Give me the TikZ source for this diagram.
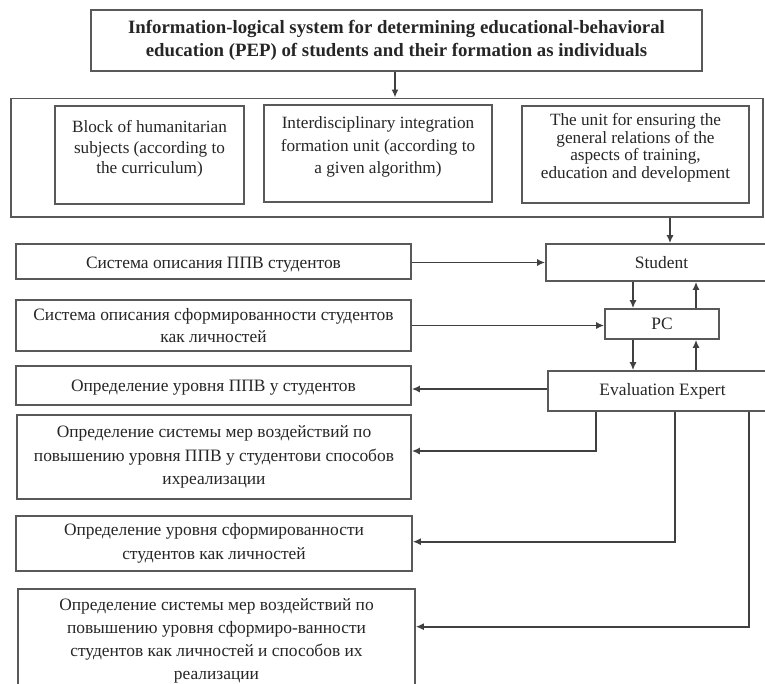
\documentclass[tikz,border=0pt]{standalone}
\usepackage{fontspec}
\setmainfont{Liberation Serif}
\usetikzlibrary{arrows.meta}
\newcommand{\lowpad}[1]{\rule[-#1]{0pt}{0pt}}
\newcommand{\toppad}[1]{\rule{0pt}{#1}}
\begin{document}
\begin{tikzpicture}[x=1pt,y=-1pt,
  box/.style={draw=black!65, line width=1.6pt, inner sep=0pt, align=center, text=black!85,
    font=\fontsize{17.4}{23}\selectfont},
  titlebox/.style={box, font=\bfseries\fontsize{18.8}{23.4}\selectfont},
  arr/.style={draw=black!75, line width=1.6pt, -{Latex[length=8pt,width=7pt]}},
  ln/.style={draw=black!75, line width=1.6pt}]
\useasboundingbox[fill=white] (0,0) rectangle (765,683);
\begin{scope}
\clip (0,0) rectangle (765,683);
% top
\node[titlebox, minimum width=611pt, minimum height=60.7pt] (title) at (396.5,40.35)
  {Information-logical system for determining educational-behavioral\\education (PEP) of students and their formation as individuals};
\node[box, minimum width=752.3pt, minimum height=118.7pt] (cont) at (386.85,157.65) {};
\node[box, minimum width=189pt, minimum height=98pt, font=\fontsize{17.2}{20.4}\selectfont] (b1) at (149.5,155)
  {Block of humanitarian\\subjects (according to\\the curriculum)\lowpad{16pt}};
\node[box, minimum width=228pt, minimum height=97pt, font=\fontsize{17.2}{22.5}\selectfont] (b2) at (378,153.5)
  {Interdisciplinary integration\\formation unit (according to\\a given algorithm)\lowpad{16pt}};
\node[box, minimum width=227pt, minimum height=97pt, font=\fontsize{17.2}{17.7}\selectfont] (b3) at (635.5,154.5)
  {The unit for ensuring the\\general relations of the\\aspects of training,\\education and development\lowpad{17pt}};
% right column
\node[box, minimum width=231pt, minimum height=37pt] (stu) at (661.5,262.5) {Student};
\node[box, minimum width=114pt, minimum height=30pt] (pc) at (662,324) {PC};
\node[box, minimum width=229pt, minimum height=40pt] (ev) at (662.5,391) {Evaluation Expert};
% left column
\node[box, minimum width=395pt, minimum height=35pt] (l1) at (213.5,261.5)
  {\toppad{17pt}Система описания ППВ студентов};
\node[box, minimum width=395pt, minimum height=51pt, font=\fontsize{17.4}{22}\selectfont] (l2) at (213.5,325.5)
  {Система описания сформированности студентов\\как личностей};
\node[box, minimum width=395pt, minimum height=39pt] (l3) at (213.5,385.5)
  {\toppad{16pt}Определение уровня ППВ у студентов};
\node[box, minimum width=394pt, minimum height=84pt, font=\fontsize{17.4}{23.4}\selectfont] (l4) at (214,457)
  {Определение системы мер воздействий по\\повышению уровня ППВ у студентови способов\\ихреализации};
\node[box, minimum width=396pt, minimum height=55pt, font=\fontsize{17.4}{24}\selectfont] (l5) at (214,543.5)
  {Определение уровня сформированности\\студентов как личностей};
\node[box, minimum width=397pt, minimum height=104pt, font=\fontsize{17.4}{22.8}\selectfont] (l6) at (216.5,641)
  {Определение системы мер воздействий по\\повышению уровня сформиро-ванности\\студентов как личностей и способов их\\реализации};
% connectors
\draw[arr] ([xshift=-1.5pt]title.south) -- ([xshift=-1.5pt]title.south |- cont.north);
\draw[arr] ([xshift=8.5pt]stu.north |- cont.south) -- ([xshift=8.5pt]stu.north);
\draw[arr] ([xshift=-29pt]pc.north |- stu.south) -- ([xshift=-29pt]pc.north);
\draw[arr] ([xshift=34pt]pc.north) -- ([xshift=34pt]pc.north |- stu.south);
\draw[arr] ([xshift=-29pt]pc.south) -- ([xshift=-29pt]pc.south |- ev.north);
\draw[arr] ([xshift=34pt]pc.south |- ev.north) -- ([xshift=34pt]pc.south);
\draw[arr] ([yshift=-1pt]l1.east) -- ([yshift=-1pt]l1.east -| stu.west);
\draw[arr] (l2.east) -- (l2.east -| pc.west);
\draw[arr] ([yshift=2pt]ev.west) -- ([yshift=2pt]ev.west -| l3.east);
\coordinate (k4) at (596,451);
\coordinate (k5) at (675,541.7);
\coordinate (k6) at (749,626.7);
\draw[arr] (k4 |- ev.south) -- (k4) -- (k4 -| l4.east);
\draw[arr] (k5 |- ev.south) -- (k5) -- (k5 -| l5.east);
\draw[arr] (k6 |- ev.south) -- (k6) -- (k6 -| l6.east);
\end{scope}
\end{tikzpicture}
\end{document}
